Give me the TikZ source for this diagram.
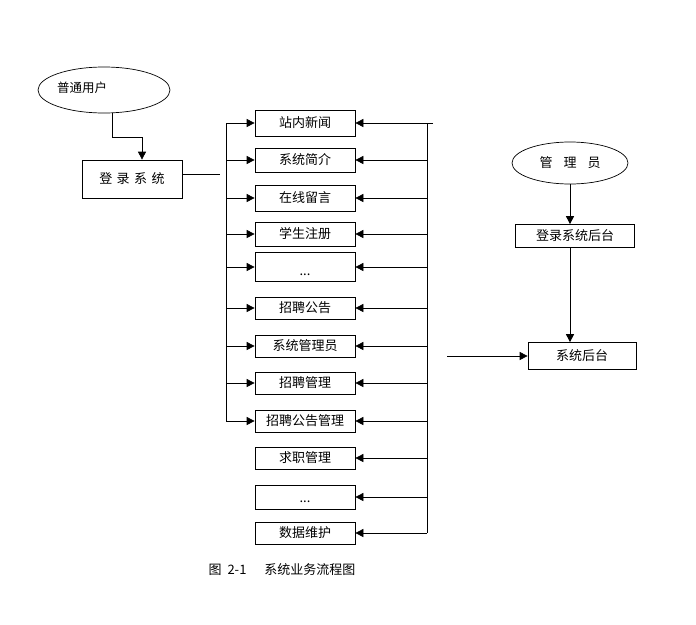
\documentclass[tikz,border=0pt]{standalone}
\usepackage{fontspec}
\setmainfont{Noto Sans CJK SC}
\usetikzlibrary{arrows.meta,calc,positioning,shapes.geometric}
\tikzset{
  wire/.style     = {line width=0.7pt},
  arr/.style      = {line width=0.7pt, -{Triangle[length=8pt,width=8pt]}},
  procbox/.style  = {rectangle, draw, line width=0.7pt, inner sep=0pt,
                     minimum width=100pt, minimum height=24pt,
                     font=\fontsize{13}{15}\selectfont},
  roleell/.style  = {ellipse, draw, line width=0.7pt, inner sep=0pt,
                     font=\fontsize{13}{15}\selectfont},
  caption text/.style = {font=\fontsize{13}{15}\selectfont},
}

\begin{document}
\begin{tikzpicture}[x=1pt,y=-1pt]
  \useasboundingbox (0,0) rectangle (696,624);

  % front end: user and login
  \node[roleell, minimum width=132pt, minimum height=46pt,
        label={[xshift=-22pt,yshift=2pt,font=\fontsize{12.5}{15}\selectfont]center:普通用户}] (user) at (104,90) {};
  \node[procbox, minimum height=38pt] (login) at (132,179)
       {登\hspace{4.5pt}录\hspace{4.5pt}系\hspace{4.5pt}统};
  \draw[arr] (user.-70) -- ++(0,24) -| ($(login.north)+(10,0)$);
  \coordinate (lgap) at (220,174);
  \draw[wire] (login.east |- lgap) -- (lgap);

  % function boxes
  \node[procbox, minimum height=26pt] (b1) at (305,123) {站内新闻};
  \node[procbox] (b2) at (305,160) {系统简介};
  \node[procbox, minimum height=26pt] (b3) at (305,198) {在线留言};
  \node[procbox] (b4) at (305,234) {学生注册};
  \node[procbox, minimum height=29pt] (b5) at (305,267) {\raisebox{-8pt}[0pt][0pt]{...}};
  \node[procbox, minimum height=22pt] (b6) at (305,308) {招聘公告};
  \node[procbox, minimum height=22pt] (b7) at (305,346) {系统管理员};
  \node[procbox, minimum height=22pt] (b8) at (305,383) {招聘管理};
  \node[procbox, minimum height=22pt] (b9) at (305,421) {招聘公告管理};
  \node[procbox, minimum height=22pt] (b10) at (305,458) {求职管理};
  \node[procbox] (b11) at (305,497) {\raisebox{-5pt}[0pt][0pt]{...}};
  \node[procbox, minimum height=22pt] (b12) at (305,533) {数据维护};

  % left bus
  \coordinate (lbus) at (226,123);
  \draw[wire] (lbus) -- (b9.west -| lbus);
  \foreach \nm in {b1,b2,b3,b4,b5,b6,b7,b8,b9}
    \draw[arr] (\nm.west -| lbus) -- (\nm.west);

  % right bus
  \coordinate (rbus) at (427,123);
  \coordinate (rtop) at (433,123);
  \draw[wire] (rbus) -- (b12.east -| rbus);
  \draw[arr] (rtop) -- (b1.east);
  \foreach \nm in {b2,b3,b4,b5,b6,b7,b8,b9,b10,b11,b12}
    \draw[arr] (\nm.east -| rbus) -- (\nm.east);

  % back end: admin
  \node[roleell, minimum width=116pt, minimum height=42pt] (admin) at (570,163)
       {管\hspace{11pt}理\hspace{11pt}员};
  \node[procbox, minimum width=119pt, minimum height=23pt] (bglogin) at (575,236) {登录系统后台};
  \node[procbox, minimum width=108pt, minimum height=27pt] (bg) at (582,356) {系统后台};
  \draw[arr] (admin.south) -- (admin.south |- bglogin.north);
  \draw[arr] (admin.south |- bglogin.south) -- (admin.south |- bg.north);
  \coordinate (bgin) at (447,356);
  \draw[arr] (bgin) -- (bg.west);

  % caption
  \node[caption text] (cap) at (282,570) {图\hspace{6pt}2-1\hspace{18pt}系统业务流程图};
\end{tikzpicture}
\end{document}
